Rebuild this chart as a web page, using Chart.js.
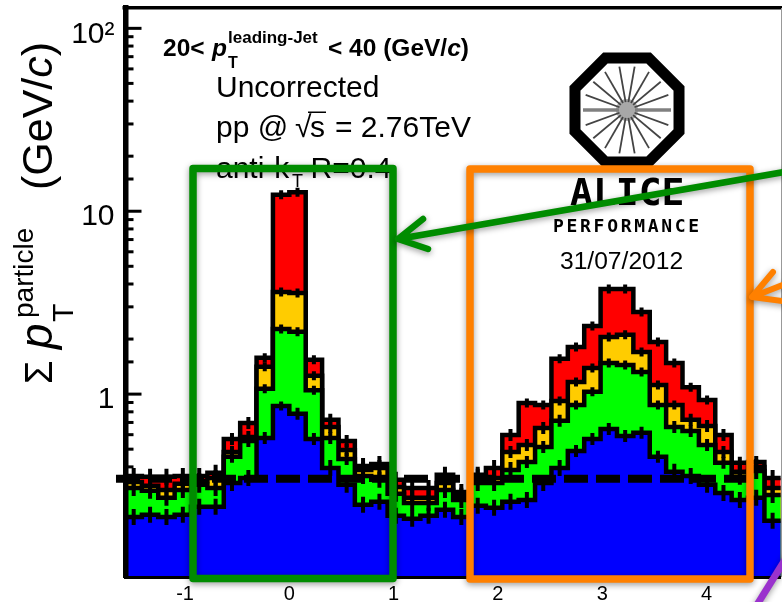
<!DOCTYPE html>
<html>
<head>
<meta charset="utf-8">
<script src="https://cdn.jsdelivr.net/npm/chart.js@4"></script>
<style>
  html, body { margin: 0; padding: 0; background: #fff; }
  canvas { display: block; }
</style>
</head>
<body>
<canvas id="ue" width="782" height="602"></canvas>
<script>
// stacked pT sum per dphi bin (bins run -pi/2 .. 3pi/2)
const stackBlue = [.213,.219,.213,.219,.242,.242,.327,.348,.576,.862,.78,.569,.395,.319,.248,.258,.216,.208,.216,.233,.213,.245,.239,.258,.264,.327,.395,.489,.569,.645,.591,.614,.454,.376,.357,.319,.288,.264,.271,.203];
const stackGreen = [.307,.296,.271,.299,.319,.307,.454,.555,1.07,2.27,2.19,1.05,.576,.442,.357,.34,.285,.254,.254,.299,.264,.327,.327,.385,.426,.514,.714,.873,1.03,1.48,1.445,1.32,.873,.662,.629,.527,.421,.353,.38,.281];
const stackYellow = [.331,.315,.299,.323,.335,.348,.483,.583,1.41,3.62,3.57,1.26,.662,.495,.385,.395,.311,.271,.271,.327,.278,.353,.348,.483,.527,.653,.918,1.166,1.39,2.055,2.11,1.70,1.12,.873,.723,.67,.483,.376,.40,.307];
const stackRed = [.357,.353,.353,.357,.357,.371,.569,.696,1.58,12.3,12.7,1.54,.723,.555,.405,.415,.34,.307,.307,.362,.292,.362,.395,.598,.895,.873,1.56,1.81,2.36,3.76,3.76,2.81,1.93,1.48,1.09,.93,.598,.421,.426,.348];

const dashX = [-1.662, 4.393];
const dashY = [0.344, 0.344];

const xTicks = [-1, 0, 1, 2, 3, 4];
const yLabels = { 1: '1', 10: '10', 100: '10\u00b2' };

const xMin = -Math.PI / 2;
const xMax = 3 * Math.PI / 2;
const binWidth = (xMax - xMin) / stackBlue.length;
const sans = '"Liberation Sans", Arial, sans-serif';

// bin centres, plus one point on each outer edge so the step reaches the frame
function steps(values) {
  const pts = values.map((v, i) => ({ x: xMin + (i + 0.5) * binWidth, y: v }));
  pts.unshift({ x: xMin, y: values[0] });
  pts.push({ x: xMax, y: values[values.length - 1] });
  return pts;
}

function layer(values, color) {
  return {
    data: steps(values),
    stepped: 'middle',
    fill: 'start',
    backgroundColor: color,
    borderColor: '#000',
    borderWidth: 4.5,
    borderJoinStyle: 'miter',
    pointStyle: 'line',
    rotation: 90,
    pointBorderColor: '#000',
    pointBorderWidth: 4,
    // error bars get longer as the value drops
    pointRadius: (c) => {
      if (c.dataIndex === 0 || c.dataIndex === values.length + 1) return 0;
      const v = c.raw.y;
      return v > 0.8 ? 4.5 : v > 0.42 ? 6 : 8;
    }
  };
}

// text run: [string, font] pieces placed one after the other
function run(ctx, x, y, pieces) {
  pieces.forEach((p) => {
    ctx.font = p[1];
    ctx.fillText(p[0], x, y);
    x += ctx.measureText(p[0]).width;
  });
}

// no padding from the tick labels, the frame has to sit at fixed edges
function noPadding(scale) {
  scale.paddingTop = 0;
  scale.paddingBottom = 0;
  scale.paddingLeft = 0;
  scale.paddingRight = 0;
}

const axisTicks = {
  id: 'axisTicks',
  beforeDatasetsDraw(chart) {
    const y = chart.scales.y;
    const ctx = chart.ctx;
    ctx.save();
    ctx.fillStyle = '#000';
    y.ticks.forEach((t) => {
      if (t.value > 100 || t.value <= 0.1) return;
      const isMajor = yLabels[t.value] !== undefined;
      const py = y.getPixelForValue(t.value);
      ctx.fillRect(chart.chartArea.left, py - 1.5, isMajor ? 16 : 8, 3);
    });
    ctx.restore();
  }
};

function drawLogo(ctx) {
  const cx = 627, cy = 110;
  ctx.save();
  ctx.strokeStyle = '#000';
  ctx.lineWidth = 11;
  ctx.lineJoin = 'miter';
  ctx.beginPath();
  for (let i = 0; i < 8; i++) {
    const a = (22.5 + 45 * i) * Math.PI / 180;
    const px = cx + 56.3 * Math.cos(a), py = cy + 56.3 * Math.sin(a);
    if (i === 0) ctx.moveTo(px, py); else ctx.lineTo(px, py);
  }
  ctx.closePath();
  ctx.stroke();
  ctx.fillStyle = '#a8a8a8';
  ctx.beginPath();
  ctx.arc(cx, cy, 11, 0, 2 * Math.PI);
  ctx.fill();
  for (let i = 0; i < 18; i++) {
    const a = 20 * i * Math.PI / 180;
    const flat = i === 0 || i === 9;
    ctx.strokeStyle = flat ? '#808080' : '#444';
    ctx.lineWidth = flat ? 3.5 : 1.8;
    ctx.beginPath();
    ctx.moveTo(cx + 8 * Math.cos(a), cy + 8 * Math.sin(a));
    ctx.lineTo(cx + 44 * Math.cos(a), cy + 44 * Math.sin(a));
    ctx.stroke();
  }
  ctx.fillStyle = '#000';
  ctx.textAlign = 'left';
  ctx.textBaseline = 'alphabetic';
  ctx.font = 'bold 38px "DejaVu Sans Mono", monospace';
  ctx.fillText('ALICE', 570, 205);
  ctx.font = 'bold 18px "DejaVu Sans Mono", monospace';
  ctx.letterSpacing = '2.7px';
  ctx.fillText('PERFORMANCE', 553, 232);
  ctx.letterSpacing = '0px';
  ctx.font = '24.6px ' + sans;
  ctx.fillText('31/07/2012', 560, 269);
  ctx.restore();
}

function drawTexts(ctx) {
  ctx.save();
  ctx.fillStyle = '#000';
  ctx.textAlign = 'left';
  ctx.textBaseline = 'alphabetic';

  const bold = 'bold 24.5px ' + sans;
  const boldIt = 'italic bold 24.5px ' + sans;
  ctx.font = bold;
  ctx.fillText('20<', 163, 56);
  ctx.font = boldIt;
  ctx.fillText('p', 212, 56);
  ctx.font = 'bold 17px ' + sans;
  ctx.fillText('leading-Jet', 228, 43);
  ctx.font = 'bold 16px ' + sans;
  ctx.fillText('T', 228, 68);
  run(ctx, 328, 56, [['< 40 (GeV/', bold], ['c', boldIt], [')', bold]]);

  const reg = '30px ' + sans;
  ctx.font = reg;
  ctx.fillText('Uncorrected', 216, 97);
  ctx.fillText('pp @', 216, 137);
  ctx.fillText('\u221a', 295, 137);
  ctx.fillText('s', 310, 137);
  ctx.fillText('= 2.76TeV', 335, 137);
  ctx.fillRect(308, 111.5, 18, 1.5);
  ctx.fillText('anti-k', 216, 178);
  ctx.font = '18px ' + sans;
  ctx.fillText('T', 292, 187);
  ctx.font = reg;
  ctx.textAlign = 'right';
  ctx.fillText('R=0.4', 391.5, 178);
  ctx.textAlign = 'left';

  // y axis title, rotated
  const rotated = (x, y, draw) => {
    ctx.save();
    ctx.translate(x, y);
    ctx.rotate(-Math.PI / 2);
    draw();
    ctx.restore();
  };
  rotated(52, 190, () => run(ctx, 0, 0, [['(GeV/', '43px ' + sans], ['c', 'italic 43px ' + sans], [')', '43px ' + sans]]));
  rotated(52, 384, () => { ctx.font = '38px ' + sans; ctx.fillText('\u03a3', 0, 0); });
  rotated(52, 349, () => { ctx.font = 'italic 46px ' + sans; ctx.fillText('p', 0, 0); });
  rotated(73, 322, () => { ctx.font = '30px ' + sans; ctx.fillText('T', 0, 0); });
  rotated(33, 318, () => { ctx.font = '28px ' + sans; ctx.fillText('particle', 0, 0); });
  ctx.restore();
}

function drawOverlay(ctx) {
  ctx.save();
  ctx.fillStyle = '#999';
  ctx.fillRect(781, 8, 1, 569);
  ctx.lineJoin = 'round';
  ctx.lineCap = 'round';
  ctx.shadowColor = 'rgba(0,0,0,0.4)';
  ctx.shadowBlur = 6;
  ctx.shadowOffsetY = 2;

  ctx.lineWidth = 7.5;
  ctx.strokeStyle = '#ff8000';
  ctx.strokeRect(470, 169, 280, 410);
  ctx.strokeStyle = '#008c00';
  ctx.strokeRect(193, 168.5, 200, 410);

  // orange arrow
  ctx.strokeStyle = '#ff8000';
  ctx.lineWidth = 6;
  ctx.beginPath();
  ctx.moveTo(773, 272); ctx.lineTo(752, 297); ctx.lineTo(790, 302);
  ctx.moveTo(752, 297); ctx.lineTo(790, 282);
  ctx.stroke();

  // green arrow
  ctx.strokeStyle = '#008c00';
  ctx.lineWidth = 6.5;
  ctx.beginPath();
  ctx.moveTo(790, 171); ctx.lineTo(398, 239);
  ctx.moveTo(423, 219); ctx.lineTo(398, 239); ctx.lineTo(428, 249);
  ctx.stroke();

  // purple arrow, only its tail is on the page
  ctx.strokeStyle = '#9a32cd';
  ctx.lineWidth = 7;
  ctx.lineCap = 'butt';
  ctx.beginPath();
  ctx.moveTo(755, 608); ctx.lineTo(788, 555);
  ctx.stroke();
  ctx.restore();
}

const annotations = {
  id: 'annotations',
  afterDraw(chart) {
    const ctx = chart.ctx;
    ctx.save();
    ctx.fillStyle = '#000';
    ctx.fillRect(chart.chartArea.left - 3, 6, chart.width - chart.chartArea.left + 3, 3.5);
    ctx.restore();
    drawTexts(ctx);
    drawLogo(ctx);
    drawOverlay(ctx);
  }
};

new Chart(document.getElementById('ue'), {
  type: 'line',
  data: {
    datasets: [
      {
        data: dashX.map((x, i) => ({ x: x, y: dashY[i] })),
        borderColor: '#000',
        borderWidth: 8,
        borderDash: [24, 8],
        pointRadius: 0,
        fill: false,
        clip: false
      },
      layer(stackBlue, '#0000ff'),
      layer(stackGreen, '#00ff00'),
      layer(stackYellow, '#ffcc00'),
      layer(stackRed, '#ff0000')
    ]
  },
  plugins: [axisTicks, annotations],
  options: {
    responsive: false,
    animation: false,
    events: [],
    layout: { padding: { top: 7.5, right: 1.2, left: 0, bottom: 0 } },
    plugins: { legend: { display: false }, tooltip: { enabled: false } },
    scales: {
      x: {
        type: 'linear',
        min: xMin,
        max: xMax,
        afterBuildTicks: (scale) => { scale.ticks = xTicks.map((v) => ({ value: v })); },
        afterFit: (scale) => { scale.height = 25; noPadding(scale); },
        grid: { drawOnChartArea: false, drawTicks: false },
        border: { color: '#000', width: 3, z: 1 },
        ticks: {
          color: '#000',
          font: { family: sans, size: 20 },
          padding: 5,
          maxRotation: 0,
          autoSkip: false
        }
      },
      y: {
        type: 'logarithmic',
        min: 0.1,
        max: 130,
        afterFit: (scale) => { scale.width = 125.5; noPadding(scale); },
        grid: { drawOnChartArea: false, drawTicks: false },
        border: { color: '#000', width: 5.5, z: 1 },
        ticks: {
          color: '#000',
          font: { family: sans, size: 30 },
          padding: 11,
          labelOffset: 6,
          autoSkip: false,
          callback: (v) => yLabels[v] || ''
        }
      }
    }
  }
});
</script>
</body>
</html>
